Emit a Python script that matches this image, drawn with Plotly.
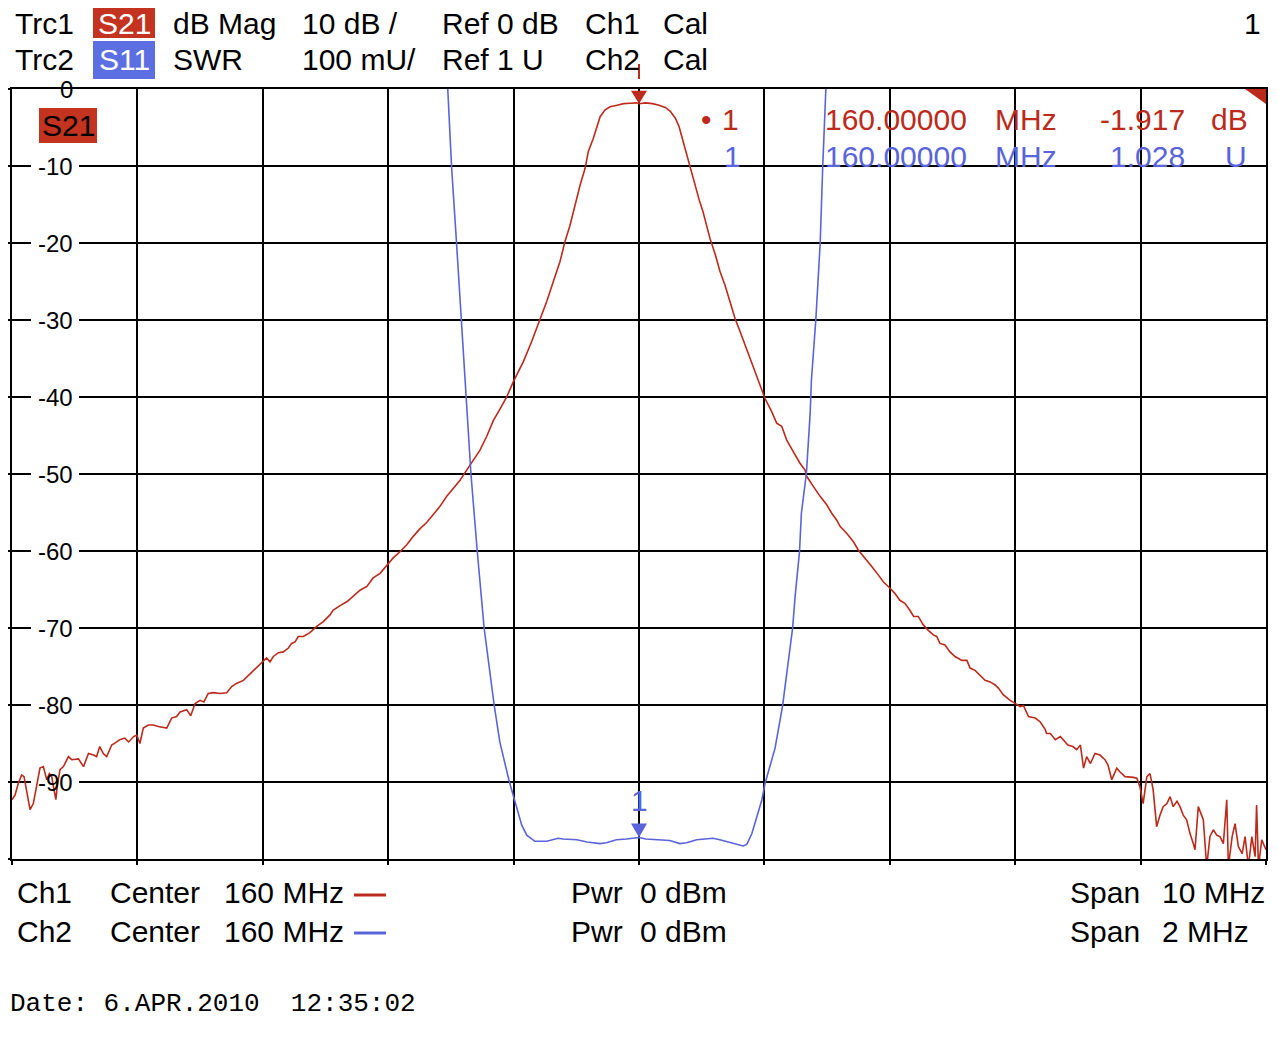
import plotly.graph_objects as go

# Trc1: S21 dB Mag, Ch1 center 160 MHz, span 10 MHz
s21_freq = [155.000, 155.024, 155.050, 155.077, 155.096, 155.117, 155.144, 155.170, 155.197, 155.223,
            155.250, 155.277, 155.298, 155.317, 155.330, 155.350, 155.360, 155.383, 155.410, 155.450,
            155.476, 155.530, 155.570, 155.610, 155.650, 155.675, 155.700, 155.728, 155.755, 155.795,
            155.835, 155.860, 155.900, 155.930, 155.970, 155.995, 156.020, 156.047, 156.087, 156.127,
            156.167, 156.207, 156.234, 156.273, 156.313, 156.340, 156.393, 156.425, 156.460, 156.500,
            156.530, 156.565, 156.605, 156.660, 156.712, 156.752, 156.790, 156.845, 156.900, 156.950,
            157.005, 157.030, 157.057, 157.084, 157.124, 157.164, 157.204, 157.230, 157.257, 157.283,
            157.323, 157.376, 157.430, 157.480, 157.536, 157.560, 157.616, 157.670, 157.720, 157.775,
            157.830, 157.880, 157.935, 157.990, 158.040, 158.094, 158.148, 158.200, 158.254, 158.307,
            158.360, 158.413, 158.467, 158.520, 158.573, 158.626, 158.680, 158.732, 158.786, 158.840,
            158.890, 158.945, 158.998, 159.051, 159.078, 159.144, 159.210, 159.264, 159.317, 159.370,
            159.410, 159.450, 159.490, 159.530, 159.570, 159.596, 159.636, 159.668, 159.690, 159.730,
            159.770, 159.825, 159.878, 159.930, 159.980, 160.000, 160.053, 160.107, 160.160, 160.210,
            160.250, 160.290, 160.320, 160.345, 160.370, 160.400, 160.430, 160.450, 160.480, 160.510,
            160.540, 160.566, 160.610, 160.646, 160.686, 160.726, 160.766, 160.806, 160.846, 160.886,
            160.925, 160.965, 161.005, 161.058, 161.098, 161.138, 161.178, 161.230, 161.284, 161.324,
            161.337, 161.390, 161.444, 161.497, 161.537, 161.577, 161.603, 161.656, 161.710, 161.750,
            161.802, 161.856, 161.908, 161.948, 162.000, 162.040, 162.080, 162.120, 162.160, 162.190,
            162.227, 162.267, 162.307, 162.347, 162.374, 162.400, 162.440, 162.480, 162.520, 162.575,
            162.615, 162.640, 162.680, 162.720, 162.760, 162.800, 162.840, 162.866, 162.906, 162.960,
            163.000, 163.040, 163.066, 163.106, 163.160, 163.200, 163.240, 163.250, 163.280, 163.320,
            163.360, 163.400, 163.420, 163.460, 163.490, 163.520, 163.545, 163.570, 163.600, 163.636,
            163.676, 163.716, 163.740, 163.770, 163.810, 163.836, 163.876, 163.943, 163.970, 163.995,
            164.020, 164.050, 164.075, 164.100, 164.128, 164.155, 164.180, 164.210, 164.235, 164.260,
            164.290, 164.314, 164.340, 164.367, 164.394, 164.420, 164.434, 164.460, 164.500, 164.527,
            164.553, 164.580, 164.607, 164.633, 164.660, 164.687, 164.700, 164.730, 164.753, 164.780,
            164.810, 164.833, 164.860, 164.887, 164.913, 164.925, 164.940, 164.966, 164.990, 165.000]
s21_db = [-92.3, -91.7, -90.2, -89.1, -89.3, -91.0, -93.6, -92.8, -90.6, -88.2,
          -88.0, -89.7, -88.9, -89.3, -90.6, -92.3, -90.6, -88.4, -88.0, -86.7,
          -87.1, -87.0, -88.0, -86.3, -86.5, -86.7, -85.4, -86.3, -86.7, -85.2,
          -84.8, -84.5, -84.3, -84.8, -84.1, -83.9, -85.0, -83.0, -82.6, -82.6,
          -82.8, -82.9, -83.0, -81.7, -81.5, -80.9, -80.6, -81.4, -79.8, -79.4,
          -79.6, -78.5, -78.4, -78.5, -78.4, -77.6, -77.2, -76.8, -75.9, -75.2,
          -74.2, -73.9, -74.4, -73.7, -73.2, -73.1, -72.6, -72.0, -71.8, -71.1,
          -71.1, -70.6, -69.8, -69.2, -68.3, -67.7, -67.1, -66.6, -65.9, -65.1,
          -64.6, -63.5, -62.9, -61.8, -60.9, -60.1, -59.2, -58.1, -57.1, -56.3,
          -55.3, -54.2, -52.9, -51.9, -50.8, -49.5, -48.2, -46.9, -45.1, -43.0,
          -41.6, -40.0, -38.0, -36.3, -35.4, -32.8, -30.0, -27.6, -25.0, -22.4,
          -19.8, -17.7, -15.1, -12.5, -10.3, -8.1, -6.4, -4.7, -3.6, -2.7,
          -2.3, -2.1, -1.9, -1.85, -1.8, -1.917, -1.8, -1.9, -2.1, -2.4,
          -2.9, -3.8, -4.9, -6.4, -7.9, -9.4, -11.2, -12.5, -14.4, -15.9,
          -17.7, -19.4, -21.6, -23.7, -25.5, -27.6, -29.8, -31.5, -33.2, -35.0,
          -36.7, -38.4, -40.2, -41.9, -43.4, -43.8, -45.6, -47.1, -48.6, -49.5,
          -50.3, -51.6, -52.9, -54.0, -55.1, -56.0, -56.8, -57.7, -58.8, -59.9,
          -60.9, -62.0, -63.1, -64.0, -64.8, -65.5, -66.4, -66.8, -67.7, -68.5,
          -68.5, -69.6, -70.3, -70.9, -71.1, -72.0, -72.2, -73.1, -73.7, -74.2,
          -74.2, -75.2, -75.5, -76.1, -76.8, -77.0, -77.4, -77.8, -78.7, -79.4,
          -79.8, -80.2, -80.1, -81.5, -81.7, -82.2, -83.2, -83.7, -83.7, -84.5,
          -84.1, -84.8, -85.2, -85.4, -85.8, -85.2, -88.2, -86.7, -87.6, -86.3,
          -86.5, -87.1, -87.8, -89.7, -88.2, -88.7, -89.3, -89.4, -89.5, -90.6,
          -92.8, -89.3, -88.9, -91.0, -95.8, -94.3, -93.2, -92.8, -91.9, -93.2,
          -92.5, -93.2, -94.3, -94.9, -96.7, -98.0, -98.8, -93.2, -94.9, -101.0,
          -97.1, -96.2, -96.9, -97.1, -98.0, -92.3, -101.0, -97.1, -95.4, -98.4,
          -99.3, -97.1, -101.0, -97.1, -99.7, -93.0, -101.0, -97.5, -98.4, -98.8]

# Trc2: S11 SWR, Ch2 center 160 MHz, span 2 MHz
s11_freq = [159.695, 159.701, 159.709, 159.717, 159.724, 159.732, 159.742, 159.753, 159.769, 159.778,
            159.793, 159.800, 159.805, 159.813, 159.821, 159.829, 159.834, 159.853, 159.863, 159.871,
            159.879, 159.901, 159.917, 159.938, 159.948, 159.964, 159.980, 159.996, 160.000, 160.011,
            160.028, 160.049, 160.065, 160.076, 160.092, 160.118, 160.129, 160.150, 160.166, 160.172,
            160.180, 160.188, 160.196, 160.201, 160.209, 160.217, 160.229, 160.238, 160.245, 160.249,
            160.256, 160.259, 160.267, 160.273, 160.275, 160.282, 160.289, 160.293, 160.298]
s11_swr = [2.000, 1.900, 1.800, 1.700, 1.600, 1.500, 1.400, 1.300, 1.200, 1.152,
           1.101, 1.081, 1.064, 1.044, 1.031, 1.026, 1.023, 1.023, 1.025, 1.027,
           1.026, 1.025, 1.022, 1.020, 1.021, 1.025, 1.026, 1.027, 1.028, 1.026,
           1.025, 1.024, 1.020, 1.021, 1.025, 1.027, 1.025, 1.020, 1.017, 1.019,
           1.033, 1.055, 1.077, 1.098, 1.120, 1.144, 1.199, 1.254, 1.300, 1.341,
           1.399, 1.449, 1.501, 1.579, 1.622, 1.700, 1.800, 1.899, 2.000]

x1_ticks = [155, 156, 157, 158, 159, 160, 161, 162, 163, 164, 165]
y1_ticks = [0, -10, -20, -30, -40, -50, -60, -70, -80, -90, -100]
y1_labels = ["0", "-10", "-20", "-30", "-40", "-50", "-60", "-70", "-80", "-90"]

marker_freq = 160.0
marker_s21 = -1.917
marker_swr = 1.028

RED = "#BC2A1C"
BLUE = "#5A64DA"
BOX_RED = "#C3331F"
BOX_BLUE = "#5C6FE2"
SANS = "Liberation Sans, Arial, sans-serif"
MONO = "Liberation Mono, Courier New, monospace"

# the page body adds an 8 px margin, so the figure is 8 px smaller than the window
OFF = 8
W, H = 1278 - OFF, 1052 - OFF
# plot area in window pixels
L, R, T, B = 12, 1266, 89, 859


def px(x):
    return (x - L) / (R - L)


def py(y):
    return (B - y) / (B - T)


fig = go.Figure()
fig.add_trace(go.Scatter(x=s21_freq, y=s21_db, mode="lines",
                         line=dict(color=RED, width=1.6), xaxis="x", yaxis="y"))
fig.add_trace(go.Scatter(x=s11_freq, y=s11_swr, mode="lines",
                         line=dict(color=BLUE, width=1.6), xaxis="x2", yaxis="y2"))

ann = []


def text(x, y, s, anchor="left", color="black", size=30, family=SANS, **kw):
    ann.append(dict(x=px(x), y=py(y), xref="paper", yref="paper", text=s,
                    showarrow=False, xanchor=anchor, yanchor="middle",
                    font=dict(family=family, size=size, color=color), **kw))


# header
text(13, 24, "Trc1")
text(124, 24, "S21", anchor="center", color="white")
text(171, 24, "dB Mag")
text(300, 24, "10 dB /")
text(440, 24, "Ref 0 dB")
text(583, 24, "Ch1")
text(661, 24, "Cal")
text(1263, 24, "1", anchor="right")
text(13, 60, "Trc2")
text(124, 60, "S11", anchor="center", color="white")
text(171, 60, "SWR")
text(300, 60, "100 mU/")
text(440, 60, "Ref 1 U")
text(583, 60, "Ch2")
text(661, 60, "Cal")

# trace label inside the grid
text(68, 126, "S21", anchor="center")

shapes = []

# y tick labels: white patch breaking the grid line, text on top
for v, lab in zip(y1_ticks, y1_labels):
    ann.append(dict(x=px(74), y=v, xref="paper", yref="y", text=lab, showarrow=False,
                    xanchor="right", yanchor="middle", borderpad=0,
                    font=dict(family=SANS, size=24, color="black")))
    shapes.append(dict(type="rect", xref="x", yref="y", xsizemode="pixel", ysizemode="pixel",
                       xanchor=x1_ticks[0], yanchor=v,
                       x0=(34 if len(lab) == 1 else 19), x1=67, y0=-5, y1=5,
                       fillcolor="white", line_width=0,
                       layer="above" if v == 0 else "between"))

# marker readouts
text(706, 119, "•", anchor="center", color=RED)
text(720, 120, "1", color=RED)
text(969, 120, f"{marker_freq:.5f}", anchor="right", color=RED)
text(993, 120, "MHz", color=RED)
text(1187, 120, f"{marker_s21:.3f}", anchor="right", color=RED)
text(1209, 120, "dB", color=RED)
text(722, 156, "1", color=BLUE)
text(969, 156, f"{marker_freq:.5f}", anchor="right", color=BLUE)
text(993, 156, "MHz", color=BLUE)
text(1187, 156, f"{marker_swr:.3f}", anchor="right", color=BLUE)
text(1249, 156, "U", anchor="right", color=BLUE)

# blue marker number above its triangle
ann.append(dict(x=marker_freq, y=marker_swr, xref="x2", yref="y2", text="1", showarrow=False,
                xanchor="center", yanchor="middle", yshift=37,
                font=dict(family=SANS, size=30, color=BLUE)))

# footer
text(15, 893, "Ch1")
text(108, 893, "Center")
text(222, 893, "160 MHz")
text(569, 893, "Pwr")
text(638, 893, "0 dBm")
text(1068, 893, "Span")
text(1160, 893, "10 MHz")
text(15, 931, "Ch2")
text(108, 931, "Center")
text(222, 931, "160 MHz")
text(569, 931, "Pwr")
text(638, 931, "0 dBm")
text(1068, 931, "Span")
text(1160, 931, "2 MHz")
text(OFF, 1004, "Date: 6.APR.2010  12:35:02", family=MONO, size=26)

shapes += [
    # header trace boxes
    dict(type="rect", xref="paper", yref="paper", x0=px(93), x1=px(155), y0=py(OFF), y1=py(38),
         fillcolor=BOX_RED, line_width=0, layer="below"),
    dict(type="rect", xref="paper", yref="paper", x0=px(93), x1=px(155), y0=py(41), y1=py(79),
         fillcolor=BOX_BLUE, line_width=0, layer="below"),
    # S21 label box inside the grid
    dict(type="rect", xref="paper", yref="paper", x0=px(39), x1=px(97), y0=py(108), y1=py(143),
         fillcolor=BOX_RED, line_width=0, layer="above"),
    # footer trace swatches
    dict(type="line", xref="paper", yref="paper", x0=px(354), x1=px(386), y0=py(895), y1=py(895),
         line=dict(color=RED, width=3)),
    dict(type="line", xref="paper", yref="paper", x0=px(354), x1=px(386), y0=py(933), y1=py(933),
         line=dict(color=BLUE, width=3)),
    # marker position tick above the grid
    dict(type="line", xref="x", yref="paper", x0=marker_freq, x1=marker_freq, y0=py(64), y1=py(79),
         line=dict(color=RED, width=2)),
    # corner flag
    dict(type="path", xref="paper", yref="paper",
         path=f"M{px(1245)},{py(89)} L{px(1266)},{py(89)} L{px(1266)},{py(104)} Z",
         fillcolor=RED, line_width=0),
    # marker triangles
    dict(type="path", xref="x", yref="y", xsizemode="pixel", ysizemode="pixel",
         xanchor=marker_freq, yanchor=marker_s21, path="M-8,13 L8,13 L0,0 Z",
         fillcolor=RED, line_width=0),
    dict(type="path", xref="x2", yref="y2", xsizemode="pixel", ysizemode="pixel",
         xanchor=marker_freq, yanchor=marker_swr, path="M-8,14 L8,14 L0,0 Z",
         fillcolor=BLUE, line_width=0),
]

axis_style = dict(showgrid=True, gridcolor="black", gridwidth=2, showline=True, mirror=True,
                  linecolor="black", linewidth=2, ticks="outside", ticklen=4, tickwidth=2,
                  tickcolor="black", showticklabels=False, zeroline=False, fixedrange=True)

fig.update_layout(
    width=W, height=H,
    margin=dict(l=L - OFF, r=W - (R - OFF), t=T - OFF, b=H - (B - OFF), pad=0, autoexpand=False),
    paper_bgcolor="white", plot_bgcolor="white",
    showlegend=False,
    xaxis=dict(range=[155, 165], tickvals=x1_ticks, **axis_style),
    yaxis=dict(range=[-100, 0], tickvals=y1_ticks, **axis_style),
    xaxis2=dict(range=[159, 161], overlaying="x", visible=False),
    yaxis2=dict(range=[1, 2], overlaying="y", visible=False),
    annotations=ann,
    shapes=shapes,
)

fig.write_html("out.html")
